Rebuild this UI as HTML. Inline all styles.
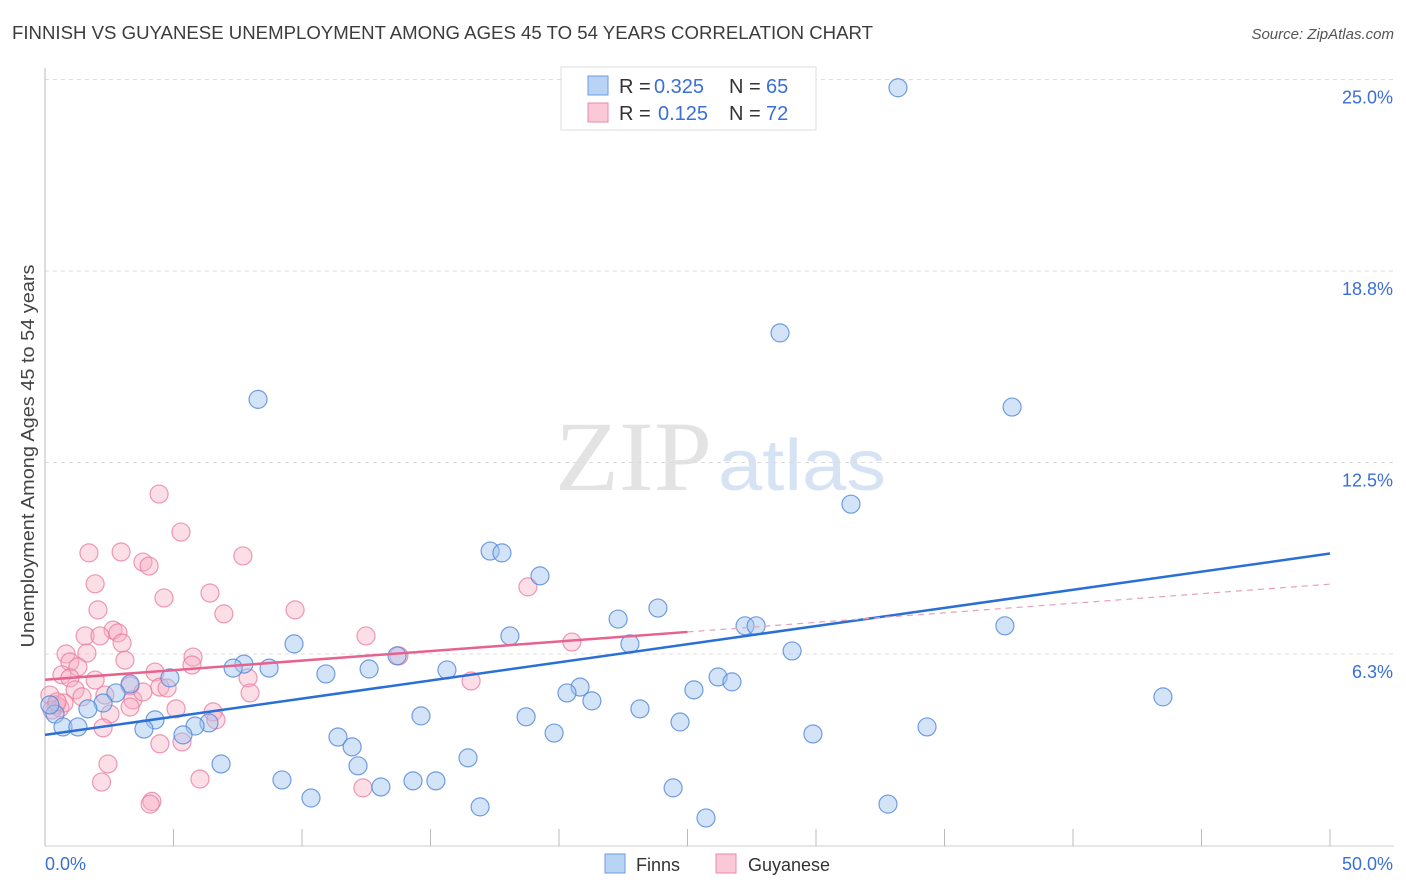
<!DOCTYPE html>
<html><head><meta charset="utf-8"><style>
body{margin:0;background:#fff;font-family:"Liberation Sans",sans-serif}
svg{display:block}
</style></head><body>
<svg width="1406" height="892" id="chart" xmlns="http://www.w3.org/2000/svg">
<text x="12" y="39" font-size="18" fill="#3c3c3c" textLength="861" lengthAdjust="spacingAndGlyphs">FINNISH VS GUYANESE UNEMPLOYMENT AMONG AGES 45 TO 54 YEARS CORRELATION CHART</text>
<text x="1394" y="39" font-size="15" fill="#555" font-style="italic" text-anchor="end">Source: ZipAtlas.com</text>
<g>
<text x="555" y="490" font-size="100" fill="#e3e3e3" font-family="Liberation Serif,serif" textLength="157" lengthAdjust="spacingAndGlyphs">ZIP</text>
<text x="718" y="490" font-size="72" fill="#d6e3f5" textLength="168" lengthAdjust="spacingAndGlyphs">atlas</text>
</g>
<g id="grid"></g>
<g id="axes"></g>
<g id="marks"></g>
<g id="trends"></g>
<text transform="translate(34,456) rotate(-90)" font-size="18" fill="#444" text-anchor="middle" textLength="383" lengthAdjust="spacingAndGlyphs">Unemployment Among Ages 45 to 54 years</text>
<g>
<rect x="561" y="67" width="255" height="63" fill="#fff" stroke="#ddd"/>
<rect x="588" y="76" width="20" height="19" fill="#b9d3f5" stroke="#6a9be0"/>
<rect x="588" y="103" width="20" height="19" fill="#fbc8d8" stroke="#e88aa8"/>
<text x="619" y="93" font-size="20" fill="#333">R = <tspan x="654" fill="#3a6fd8">0.325</tspan><tspan x="729">N = </tspan><tspan x="766" fill="#3a6fd8">65</tspan></text>
<text x="619" y="120" font-size="20" fill="#333">R = <tspan x="658" fill="#3a6fd8">0.125</tspan><tspan x="729">N = </tspan><tspan x="766" fill="#3a6fd8">72</tspan></text>
</g>
<g>
<rect x="605" y="854" width="20" height="19" fill="#b9d3f5" stroke="#6a9be0"/>
<text x="636" y="871" font-size="18" fill="#333">Finns</text>
<rect x="716" y="854" width="20" height="19" fill="#fbc8d8" stroke="#e88aa8"/>
<text x="748" y="871" font-size="18" fill="#333">Guyanese</text>
</g>
</svg>
<script>
const yTicks=[25.0,18.8,12.5,6.3];
const yTickLabels=["25.0%","18.8%","12.5%","6.3%"];
const xTickLabels=["0.0%","50.0%"];
const finnsX=[33.19,28.6,8.29,37.63,31.36,17.32,17.78,19.26,23.85,22.30,27.24,27.67,37.35,18.09,9.69,22.76,29.07,13.70,7.74,7.32,8.72,12.61,15.64,10.93,4.86,26.19,26.73,3.31,20.82,25.25,20.31,2.76,43.5,2.26,21.28,1.67,23.15,0.39,14.63,18.72,4.28,6.38,24.71,5.84,3.85,0.70,1.28,34.32,19.81,5.37,29.88,11.4,11.95,16.46,6.85,12.18,9.22,14.32,15.21,13.07,24.44,10.35,32.8,16.93,25.72,0.19];
const finnsY=[24.73,16.73,14.56,14.31,11.14,9.61,9.55,8.8,7.75,7.39,7.17,7.17,7.17,6.84,6.58,6.58,6.35,6.19,5.92,5.79,5.79,5.76,5.73,5.6,5.47,5.5,5.34,5.27,5.17,5.08,4.98,4.98,4.85,4.65,4.72,4.46,4.46,4.29,4.23,4.2,4.1,4.0,4.03,3.9,3.8,3.87,3.87,3.87,3.67,3.61,3.64,3.54,3.22,2.86,2.66,2.6,2.14,2.11,2.11,1.91,1.88,1.55,1.35,1.26,0.9,4.59];
const guyX=[4.44,5.29,1.71,2.96,7.7,3.81,4.05,18.79,1.95,4.63,6.42,2.06,9.73,6.96,2.65,2.84,1.56,2.14,12.49,3.0,20.5,0.82,1.63,5.76,13.77,3.11,0.97,1.28,5.72,4.28,0.66,0.97,7.9,1.95,16.58,3.31,1.17,4.47,4.75,7.98,2.33,1.44,0.19,3.42,5.1,6.54,3.31,2.53,0.43,0.58,0.27,6.65,2.26,5.33,4.47,2.45,6.03,2.2,12.37,4.16,4.09,0.74,0.47,3.81];
const guyY=[11.47,10.23,9.55,9.58,9.45,9.25,9.12,8.44,8.54,8.08,8.24,7.69,7.69,7.56,7.03,6.94,6.84,6.84,6.84,6.61,6.64,6.25,6.28,6.15,6.19,6.05,5.99,5.83,5.89,5.66,5.57,5.47,5.47,5.4,5.37,5.21,5.08,5.17,5.14,4.98,4.91,4.85,4.91,4.75,4.46,4.36,4.52,4.29,4.59,4.49,4.42,4.1,3.84,3.38,3.32,2.66,2.17,2.07,1.88,1.44,1.35,4.65,4.69,5.01];
const finnsTrendX=[0,50];
const finnsTrendY=[3.61,9.53];
const guyTrendX=[0,25,50];
const guyTrendY=[5.41,6.97,8.53];

const NS="http://www.w3.org/2000/svg";
const X0=45,X1=1330,Y0=845.5,PXPER=191.5/6.25;
function sx(v){return X0+(v/50)*(X1-X0);}
function sy(v){return Y0-v*PXPER;}
function mk(tag,attrs,parent){const e=document.createElementNS(NS,tag);for(const k in attrs)e.setAttribute(k,attrs[k]);parent.appendChild(e);return e;}
const grid=document.getElementById('grid'),axes=document.getElementById('axes'),marks=document.getElementById('marks'),trends=document.getElementById('trends');
yTicks.forEach((t,i)=>{
  const yy=sy(t===6.3?6.25:t===18.8?18.75:t);
  const l=mk('line',{x1:X0,x2:1394,y1:yy,y2:yy,stroke:'#dcdcdc','stroke-dasharray':'4,4'},grid);
  
  
  const tx=mk('text',{x:1393,y:yy+24,'font-size':18,fill:'#3a6fd8','text-anchor':'end'},axes);
  tx.textContent=yTickLabels[i];
  
  
});
const la=mk('line',{x1:X0,x2:X0,y1:68,y2:846,stroke:'#bbb'},axes);


const lb=mk('line',{x1:X0,x2:1394,y1:846,y2:846,stroke:'#ccc'},axes);


for(let i=1;i<=10;i++){const xx=sx(i*5);const t=mk('line',{x1:xx,x2:xx,y1:829,y2:846,stroke:'#bbb'},axes);

}
[[0,45,'start'],[1,1393,'end']].forEach(([i,x,a])=>{const t=mk('text',{x:x,y:870,'font-size':18,fill:'#3a6fd8','text-anchor':a},axes);t.textContent=xTickLabels[i];

});
guyX.forEach((v,i)=>{const c=mk('circle',{cx:sx(v),cy:sy(guyY[i]),r:9,fill:'rgba(247,172,196,0.4)',stroke:'rgba(232,120,158,0.75)','stroke-width':1.2},marks);

});
finnsX.forEach((v,i)=>{const c=mk('circle',{cx:sx(v),cy:sy(finnsY[i]),r:9,fill:'rgba(160,196,240,0.45)',stroke:'rgba(80,135,215,0.8)','stroke-width':1.2},marks);

});
const bt=mk('line',{x1:sx(finnsTrendX[0]),y1:sy(finnsTrendY[0]),x2:sx(finnsTrendX[1]),y2:sy(finnsTrendY[1]),stroke:'#2a6fd6','stroke-width':2.5},trends);


const pt=mk('line',{x1:sx(guyTrendX[0]),y1:sy(guyTrendY[0]),x2:sx(guyTrendX[1]),y2:sy(guyTrendY[1]),stroke:'#e8628f','stroke-width':2.5},trends);


const pd=mk('line',{x1:sx(guyTrendX[1]),y1:sy(guyTrendY[1]),x2:sx(guyTrendX[2]),y2:sy(guyTrendY[2]),stroke:'#e8a0b8','stroke-width':1.2,'stroke-dasharray':'6,5'},trends);


</script>
</body></html>
